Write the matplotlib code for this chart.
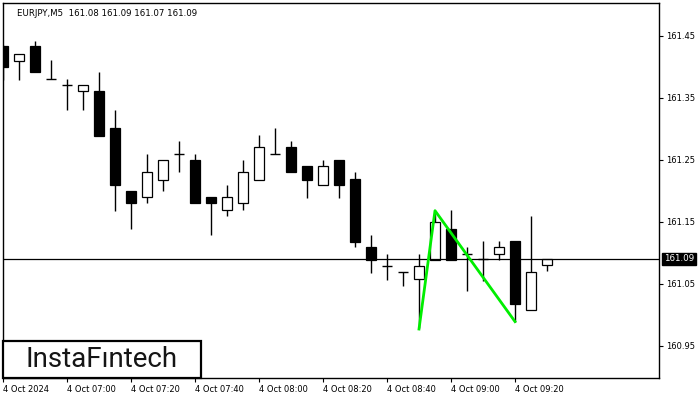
import matplotlib
matplotlib.use("Agg")
import matplotlib.pyplot as plt
import matplotlib.transforms as mtransforms
from matplotlib.patches import Rectangle

# ----- Candle data (EURJPY M5, 4 Oct 2024, 06:40 .. 09:30) -----
opens = [161.433, 161.410, 161.433, 161.380, 161.371, 161.361, 161.361, 161.302, 161.200,
         161.190, 161.218, 161.260, 161.250, 161.190, 161.169, 161.180, 161.218, 161.260,
         161.270, 161.240, 161.209, 161.250, 161.219, 161.110, 161.079, 161.069, 161.058,
         161.088, 161.139, 161.098, 161.090, 161.098, 161.119, 161.008, 161.080]
highs = [161.435, 161.421, 161.442, 161.411, 161.381, 161.370, 161.392, 161.331, 161.200,
         161.260, 161.250, 161.281, 161.260, 161.190, 161.209, 161.250, 161.290, 161.301,
         161.281, 161.240, 161.250, 161.250, 161.231, 161.129, 161.098, 161.069, 161.098,
         161.168, 161.169, 161.109, 161.119, 161.119, 161.119, 161.160, 161.090]
lows = [161.379, 161.379, 161.391, 161.380, 161.330, 161.330, 161.289, 161.168, 161.138,
        161.180, 161.199, 161.230, 161.180, 161.128, 161.159, 161.169, 161.218, 161.260,
        161.230, 161.189, 161.209, 161.189, 161.109, 161.068, 161.056, 161.047, 160.978,
        161.088, 161.088, 161.038, 161.055, 161.088, 160.989, 161.008, 161.070]
closes = [161.400, 161.421, 161.391, 161.380, 161.371, 161.370, 161.289, 161.209, 161.180,
          161.230, 161.250, 161.260, 161.180, 161.180, 161.190, 161.230, 161.270, 161.260,
          161.230, 161.218, 161.240, 161.209, 161.118, 161.089, 161.079, 161.069, 161.079,
          161.150, 161.088, 161.098, 161.090, 161.109, 161.018, 161.069, 161.090]

# pattern line (bar index, price)
pattern_x = [26, 27, 32]
pattern_y = [160.977, 161.168, 160.989]

current_price = 161.09
header = "EURJPY,M5  161.08 161.09 161.07 161.09"

xtick_pos = [0, 4, 8, 12, 16, 20, 24, 28, 32]
xtick_labels = ["4 Oct 2024", "4 Oct 07:00", "4 Oct 07:20", "4 Oct 07:40", "4 Oct 08:00",
                "4 Oct 08:20", "4 Oct 08:40", "4 Oct 09:00", "4 Oct 09:20"]
ytick_vals = [160.95, 161.05, 161.15, 161.25, 161.35, 161.45]

# ----- Plotting -----
fig = plt.figure(figsize=(7, 4), dpi=100)
ax = fig.add_axes([3 / 700, 22 / 400, 656 / 700, 375 / 400])

w = 0.62
for i, (o, h, l, c) in enumerate(zip(opens, highs, lows, closes)):
    ax.vlines(i, l, h, color="black", lw=1.0, zorder=2)
    if abs(c - o) < 0.001:
        ax.hlines(o, i - w / 2, i + w / 2, color="black", lw=1.0, zorder=3)
    else:
        fc = "white" if c > o else "black"
        ax.bar(i, abs(c - o), bottom=min(o, c), width=w, facecolor=fc,
               edgecolor="black", linewidth=0.9, zorder=3)

ax.axhline(current_price, color="black", lw=0.9, zorder=4)
ax.plot(pattern_x, pattern_y, color="#00ee00", lw=2.0, zorder=5)

ax.set_xlim(0, 41)
ax.set_ylim(160.898, 161.503)

ax.yaxis.tick_right()
ax.set_yticks(ytick_vals)
ax.set_yticklabels([f"{v:.2f}" for v in ytick_vals])
ax.set_xticks(xtick_pos)
ax.set_xticklabels(xtick_labels)
plt.setp(ax.get_xticklabels(), ha="left")
ax.tick_params(axis="both", labelsize=6, length=3, width=0.8, pad=2, direction="out")
for s in ax.spines.values():
    s.set_linewidth(1.0)

# header
ax.text(0.022, 0.985, header, transform=ax.transAxes, fontsize=6.2, va="top", ha="left")

# current price tag
trans = mtransforms.blended_transform_factory(ax.transAxes, ax.transData)
ax.text(1.008, current_price, f"{current_price:.2f}", transform=trans, fontsize=6.3,
        color="white", va="center", ha="left",
        bbox=dict(facecolor="black", edgecolor="black", pad=1.3))

# logo
fig.patches.append(Rectangle((3 / 700, 22 / 400), 198 / 700, 37 / 400, transform=fig.transFigure,
                             facecolor="white", edgecolor="black", linewidth=1.6, zorder=10))
fig.text(102 / 700, 40.5 / 400, "InstaF\u0131ntech", fontsize=20, family="Roboto",
         color="#151515", ha="center", va="center", zorder=11)

fig.savefig("out.png", dpi=100)
